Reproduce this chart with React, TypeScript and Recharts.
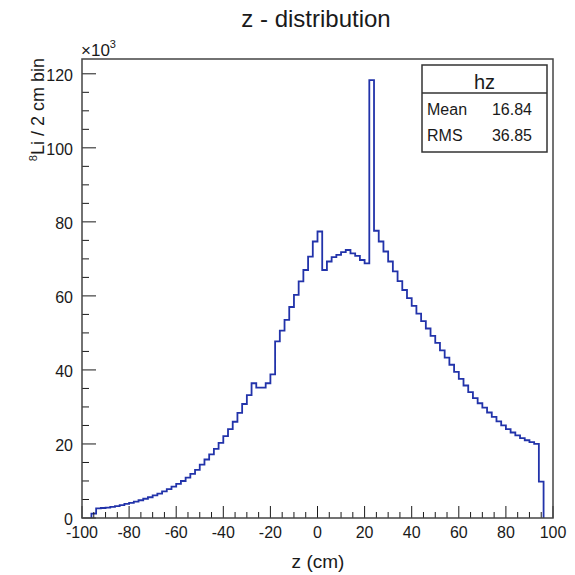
import React from "react";
import { ComposedChart, Line, XAxis, YAxis } from "recharts";

// Histogram "hz": 2 cm bins, first bin low edge at -96 cm (counts in units of 10^3)
const BIN_LOW = -96;
const BIN_WIDTH = 2;
const counts: number[] = [
  1.2, 2.6, 2.7, 2.8, 3.0, 3.2, 3.5, 3.8, 4.1, 4.4,
  4.8, 5.2, 5.6, 6.1, 6.6, 7.2, 7.8, 8.5, 9.2, 10.0,
  10.9, 11.9, 13.0, 14.4, 15.8, 17.2, 18.7, 20.3, 22.1, 24.0,
  26.0, 28.4, 30.8, 33.2, 36.4, 35.2, 35.2, 36.4, 38.8, 47.7,
  50.6, 53.5, 57.0, 60.3, 63.9, 67.0, 70.6, 74.7, 77.4, 67.0,
  69.3, 70.5, 71.1, 71.8, 72.4, 71.5, 70.8, 69.7, 68.8, 118.3,
  77.6, 74.7, 72.0, 69.3, 66.6, 64.0, 61.6, 59.4, 57.3, 55.2,
  53.2, 51.2, 49.2, 47.3, 45.3, 43.3, 41.4, 39.5, 37.6, 35.8,
  34.0, 32.4, 31.0, 29.8, 28.5, 27.3, 26.1, 25.0, 24.0, 23.1,
  22.3, 21.6, 21.0, 20.5, 20.0, 9.8,
];

const xMajorTicks = [-100, -80, -60, -40, -20, 0, 20, 40, 60, 80, 100];
const yMajorTicks = [0, 20, 40, 60, 80, 100, 120];
const X_MINOR_STEP = 5;
const Y_MINOR_STEP = 5;

const statsTitle = "hz";
const statsRows: [string, string][] = [
  ["Mean", "16.84"],
  ["RMS", "36.85"],
];

const W = 575;
const H = 575;
const PLOT_LEFT = 82;
const PLOT_RIGHT = 553;
const PLOT_TOP = 59;
const PLOT_BOTTOM = 518;
const AXIS_W = 40;
const AXIS_H = 30;
const FONT = "'Liberation Sans', Arial, Helvetica, sans-serif";
const INK = "#1a1a1a";

const data: { z: number; v: number }[] = [];
data.push({ z: BIN_LOW, v: 0 });
counts.forEach((v, i) => data.push({ z: BIN_LOW + i * BIN_WIDTH, v }));
const lastEdge = BIN_LOW + counts.length * BIN_WIDTH;
data.push({ z: lastEdge, v: counts[counts.length - 1] });
data.push({ z: lastEdge, v: 0 });

const xTicks: number[] = [];
for (let t = -100; t <= 100; t += X_MINOR_STEP) xTicks.push(t);
const yTicks: number[] = [];
for (let t = 0; t <= 120; t += Y_MINOR_STEP) yTicks.push(t);

const renderXTick = (props: any) => {
  const { x, payload, index } = props;
  const v = payload.value;
  const major = xMajorTicks.includes(v);
  return (
    <g key={`xt-${index}`}>
      <line x1={x} x2={x} y1={PLOT_BOTTOM} y2={PLOT_BOTTOM - (major ? 12 : 6)} stroke={INK} strokeWidth={1} />
      {major && (
        <text x={x} y={538} textAnchor="middle" fontSize={16} fontFamily={FONT} fill={INK}>
          {v}
        </text>
      )}
    </g>
  );
};

const renderYTick = (props: any) => {
  const { y, payload, index } = props;
  const v = payload.value;
  const major = yMajorTicks.includes(v);
  return (
    <g key={`yt-${index}`}>
      <line x1={PLOT_LEFT} x2={PLOT_LEFT + (major ? 14 : 7)} y1={y} y2={y} stroke={INK} strokeWidth={1} />
      {major && (
        <text x={73} y={y + 7} textAnchor="end" fontSize={16} fontFamily={FONT} fill={INK}>
          {v}
        </text>
      )}
    </g>
  );
};

export default function App() {
  return (
    <div style={{ position: "absolute", left: 0, top: 0, width: W, height: H, background: "#fff" }}>
      <ComposedChart
        width={W}
        height={H}
        data={data}
        margin={{
          top: PLOT_TOP,
          right: W - PLOT_RIGHT,
          bottom: H - PLOT_BOTTOM - AXIS_H,
          left: PLOT_LEFT - AXIS_W,
        }}
      >
        <XAxis
          type="number"
          dataKey="z"
          domain={[-100, 100]}
          ticks={xTicks}
          interval={0}
          height={AXIS_H}
          axisLine={false}
          tickLine={false}
          tick={renderXTick}
          allowDataOverflow
        />
        <YAxis
          type="number"
          domain={[0, 124]}
          ticks={yTicks}
          interval={0}
          width={AXIS_W}
          axisLine={false}
          tickLine={false}
          tick={renderYTick}
          allowDataOverflow
        />
        <Line
          type="stepAfter"
          dataKey="v"
          stroke="#2233aa"
          strokeWidth={1.8}
          dot={false}
          activeDot={false}
          isAnimationActive={false}
        />
      </ComposedChart>
      <svg
        width={W}
        height={H}
        style={{ position: "absolute", left: 0, top: 0, pointerEvents: "none" }}
      >
        <rect
          x={PLOT_LEFT}
          y={PLOT_TOP}
          width={PLOT_RIGHT - PLOT_LEFT}
          height={PLOT_BOTTOM - PLOT_TOP}
          fill="none"
          stroke="#444"
          strokeWidth={1.5}
        />
        <text x={316} y={27} textAnchor="middle" fontSize={24} fontFamily={FONT} fill={INK}>
          z - distribution
        </text>
        <text x={318} y={568} textAnchor="middle" fontSize={19} fontFamily={FONT} fill={INK}>
          z (cm)
        </text>
        <text
          transform="translate(44,58) rotate(-90)"
          textAnchor="end"
          fontSize={18}
          fontFamily={FONT}
          fill={INK}
        >
          <tspan fontSize={11} dy={-7}>8</tspan>
          <tspan dy={7}>Li / 2 cm bin</tspan>
        </text>
        <text x={81} y={56} fontSize={17} fontFamily={FONT} fill={INK}>
          ×10<tspan fontSize={11} dy={-8}>3</tspan>
        </text>
        <rect x={422} y={65} width={125} height={87} fill="#fff" stroke="#333" strokeWidth={1.5} />
        <line x1={422} x2={547} y1={93} y2={93} stroke="#333" strokeWidth={1.5} />
        <text x={484.5} y={89} textAnchor="middle" fontSize={20} fontFamily={FONT} fill={INK}>
          {statsTitle}
        </text>
        {statsRows.map((r, i) => (
          <g key={r[0]}>
            <text x={427} y={115 + i * 26} fontSize={16} fontFamily={FONT} fill={INK}>
              {r[0]}
            </text>
            <text x={532} y={115 + i * 26} textAnchor="end" fontSize={16} fontFamily={FONT} fill={INK}>
              {r[1]}
            </text>
          </g>
        ))}
      </svg>
    </div>
  );
}
